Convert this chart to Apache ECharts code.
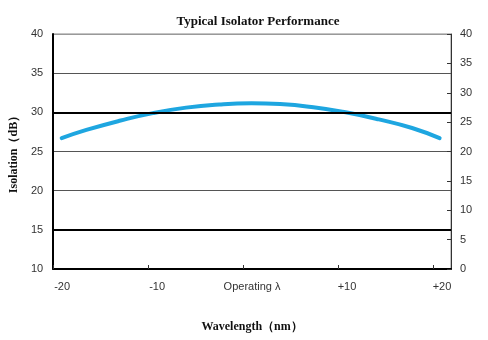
<!DOCTYPE html>
<html>
<head>
<meta charset="utf-8">
<script src="https://cdn.jsdelivr.net/npm/echarts@6/dist/echarts.min.js"></script>
<style>
  html, body { margin: 0; padding: 0; background: #fff; }
  #chart { width: 488px; height: 340px; }
</style>
</head>
<body>
<div id="chart"></div>
<script>
// Wavelength offset from the operating wavelength (nm) and measured isolation (dB)
const wavelength = [-19.1, -16.5, -12.9, -9.5, -6.0, -2.5, 0.9, 3.9, 7.4, 10.8, 14.3, 17.8, 20.7];
const isolation  = [26.7, 27.75, 28.95, 29.9, 30.6, 31.0, 31.15, 31.05, 30.65, 30.0, 29.1, 28.0, 26.7];

// Bottom axis tick positions and their labels
const xTickValues = [-20, -10, 0, 10, 20];
const xTickLabels = ['-20', '-10', 'Operating λ', '+10', '+20'];

// Reference levels drawn as heavier rules
const heavyLevels = [30, 15];

const labelFont = 'Liberation Sans';
const serif = 'Liberation Serif';

const chart = echarts.init(document.getElementById('chart'));
chart.setOption({
  animation: false,
  title: {
    text: 'Typical Isolator Performance',
    left: 253,
    textAlign: 'center',
    top: 10,
    textStyle: { fontFamily: serif, fontWeight: 'bold', fontSize: 13, color: '#111' }
  },
  grid: {
    left: 49, right: 37, top: 34, bottom: 71,
    show: true, borderColor: '#888', borderWidth: 1
  },
  xAxis: {
    type: 'value',
    min: -20, max: 21.9, interval: 10,
    name: 'Wavelength（nm）',
    nameLocation: 'middle',
    nameGap: 52,
    nameTextStyle: { fontFamily: serif, fontWeight: 'bold', fontSize: 12, color: '#111' },
    axisLine: { show: true, onZero: false, lineStyle: { color: '#000', width: 2 } },
    axisTick: { show: true, inside: true, length: 4, customValues: xTickValues, lineStyle: { color: '#333' } },
    axisLabel: {
      customValues: xTickValues,
      formatter: v => xTickLabels[xTickValues.indexOf(v)] ?? '',
      margin: 12,
      padding: [0, 0, 0, 18],
      fontFamily: labelFont, fontSize: 11, color: '#333'
    },
    splitLine: { show: false }
  },
  yAxis: [
    {
      type: 'value', min: 10, max: 40, interval: 5,
      name: 'Isolation（dB）',
      nameLocation: 'middle',
      nameGap: 27,
      nameTextStyle: { fontFamily: serif, fontWeight: 'bold', fontSize: 12, color: '#111' },
      axisLine: { show: true, onZero: false, lineStyle: { color: '#000', width: 2 } },
      axisTick: { show: false },
      axisLabel: { margin: 10, fontFamily: labelFont, fontSize: 11, color: '#333' },
      splitLine: { show: true, lineStyle: { color: ['#555', '#555', '#555', '#555', '#555', '#555', '#999'], width: 1 } }
    },
    {
      type: 'value', min: 0, max: 40, interval: 5, position: 'right',
      axisLine: { show: true, onZero: false, lineStyle: { color: '#333', width: 1 } },
      axisTick: { show: true, inside: true, length: 4, lineStyle: { color: '#333' } },
      axisLabel: { margin: 9, fontFamily: labelFont, fontSize: 11, color: '#333' },
      splitLine: { show: false }
    }
  ],
  series: [
    {
      type: 'line',
      yAxisIndex: 0,
      data: wavelength.map((w, i) => [w, isolation[i]]),
      smooth: 0.5,
      showSymbol: false,
      lineStyle: { color: '#1ea6e0', width: 4, cap: 'round' },
      markLine: {
        silent: true,
        symbol: 'none',
        label: { show: false },
        lineStyle: { color: '#000', width: 2, type: 'solid' },
        data: heavyLevels.map(v => ({ yAxis: v }))
      },
      z: 3
    }
  ]
});
</script>
</body>
</html>
